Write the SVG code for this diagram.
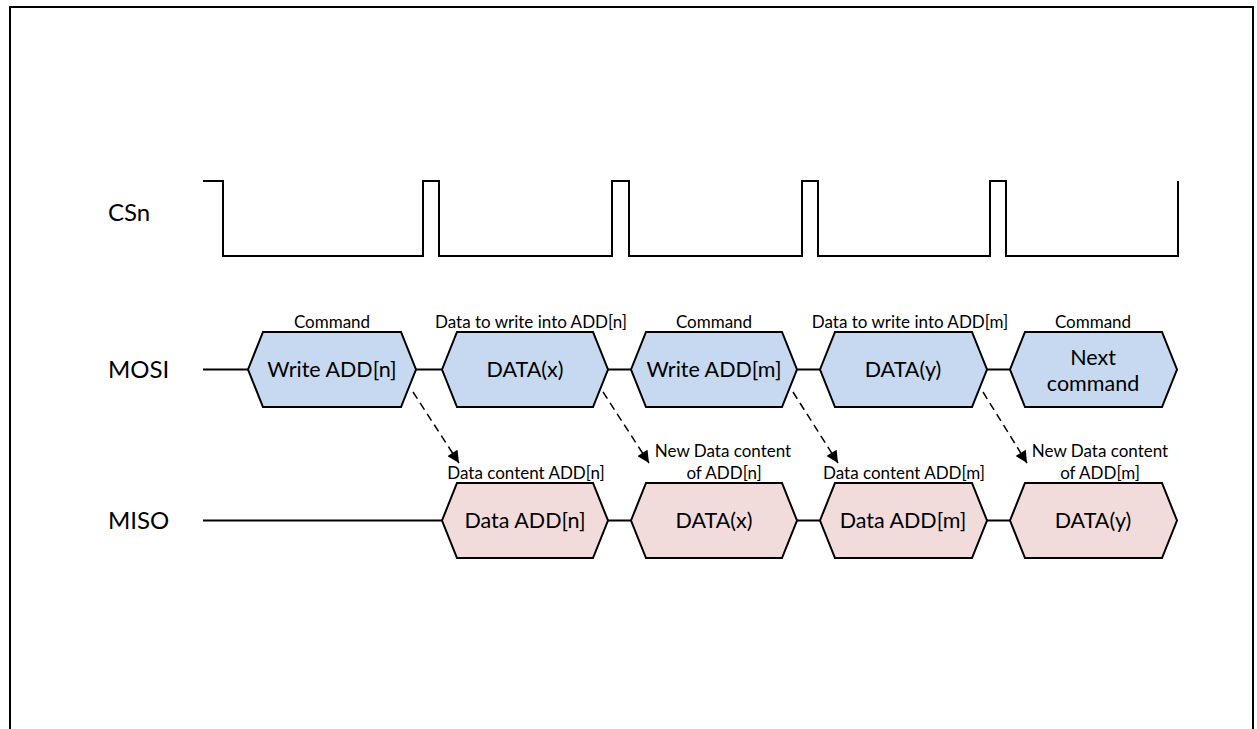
<svg xmlns="http://www.w3.org/2000/svg" width="1257" height="729" viewBox="0 0 1257 729">
<style>
.sig{fill:none;stroke:#000;stroke-width:2}
.hexb{fill:#c6d9f0;stroke:#000;stroke-width:2;stroke-linejoin:miter}
.hexp{fill:#f2dcdb;stroke:#000;stroke-width:2;stroke-linejoin:miter}
.lbl{font-family:Lato,"Liberation Sans",sans-serif;font-size:24px;fill:#000}
.ht{font-family:Lato,"Liberation Sans",sans-serif;font-size:21.5px;fill:#000;text-anchor:middle}
.st{font-family:Lato,"Liberation Sans",sans-serif;font-size:17px;fill:#000;text-anchor:middle}
.dash{fill:none;stroke:#000;stroke-width:1.5;stroke-dasharray:8,5}
</style>
<defs>
<marker id="ah" viewBox="0 0 12 12" refX="12" refY="6" markerWidth="13" markerHeight="12" markerUnits="userSpaceOnUse" orient="auto">
<path d="M0,0 L12,6 L0,12 z" fill="#000"/>
</marker>
</defs>
<rect width="1257" height="729" fill="#fff"/>
<path class="sig" d="M10,729 V7 H1253 V729"/>
<g id="labels">
<text class="lbl" x="108" y="221">CSn</text>
<text class="lbl" x="108" y="378">MOSI</text>
<text class="lbl" x="108" y="529">MISO</text>
</g>
<g id="csn">
<path class="sig" d="M203,181 H223 V256 H423 V181 H439 V256 H612 V181 H629 V256 H802 V181 H818 V256 H990 V181 H1006 V256 H1178 V181"/>
</g>
<g id="connectors">
<path class="sig" d="M203,369.5 H248 M416,369.5 H442 M608,369.5 H631 M797,369.5 H820 M987,369.5 H1010"/>
<path class="sig" d="M203,520.5 H442 M608,520.5 H631 M797,520.5 H820 M987,520.5 H1010"/>
<line class="dash" x1="413" y1="392" x2="459" y2="463" marker-end="url(#ah)"/>
<line class="dash" x1="603" y1="392" x2="649" y2="463" marker-end="url(#ah)"/>
<line class="dash" x1="793" y1="392" x2="838" y2="463" marker-end="url(#ah)"/>
<line class="dash" x1="983" y1="392" x2="1027" y2="463" marker-end="url(#ah)"/>
</g>
<g id="mosi1">
<polygon class="hexb" points="248,369.5 263,332 401,332 416,369.5 401,407 263,407"/>
<text class="st" x="332" y="328">Command</text>
<text class="ht" x="332" y="377">Write ADD[n]</text>
</g>
<g id="mosi2">
<polygon class="hexb" points="442,369.5 457,332 593,332 608,369.5 593,407 457,407"/>
<text class="st" x="531" y="328">Data to write into ADD[n]</text>
<text class="ht" x="525" y="377">DATA(x)</text>
</g>
<g id="mosi3">
<polygon class="hexb" points="631,369.5 646,332 782,332 797,369.5 782,407 646,407"/>
<text class="st" x="714" y="328">Command</text>
<text class="ht" x="714" y="377">Write ADD[m]</text>
</g>
<g id="mosi4">
<polygon class="hexb" points="820,369.5 835,332 972,332 987,369.5 972,407 835,407"/>
<text class="st" x="910" y="328">Data to write into ADD[m]</text>
<text class="ht" x="903" y="377">DATA(y)</text>
</g>
<g id="mosi5">
<polygon class="hexb" points="1010,369.5 1025,332 1162,332 1177,369.5 1162,407 1025,407"/>
<text class="st" x="1093" y="328">Command</text>
<text class="ht" x="1093" y="365">Next</text>
<text class="ht" x="1093" y="391">command</text>
</g>
<g id="miso1">
<polygon class="hexp" points="442,520.5 457,483 593,483 608,520.5 593,558 457,558"/>
<text class="st" x="526" y="479">Data content ADD[n]</text>
<text class="ht" x="525" y="528">Data ADD[n]</text>
</g>
<g id="miso2">
<polygon class="hexp" points="631,520.5 646,483 782,483 797,520.5 782,558 646,558"/>
<text class="st" x="723" y="457">New Data content</text>
<text class="st" x="724" y="479">of ADD[n]</text>
<text class="ht" x="714" y="528">DATA(x)</text>
</g>
<g id="miso3">
<polygon class="hexp" points="820,520.5 835,483 972,483 987,520.5 972,558 835,558"/>
<text class="st" x="904" y="479">Data content ADD[m]</text>
<text class="ht" x="903" y="528">Data ADD[m]</text>
</g>
<g id="miso4">
<polygon class="hexp" points="1010,520.5 1025,483 1162,483 1177,520.5 1162,558 1025,558"/>
<text class="st" x="1100" y="457">New Data content</text>
<text class="st" x="1100" y="479">of ADD[m]</text>
<text class="ht" x="1093" y="528">DATA(y)</text>
</g>
</svg>
